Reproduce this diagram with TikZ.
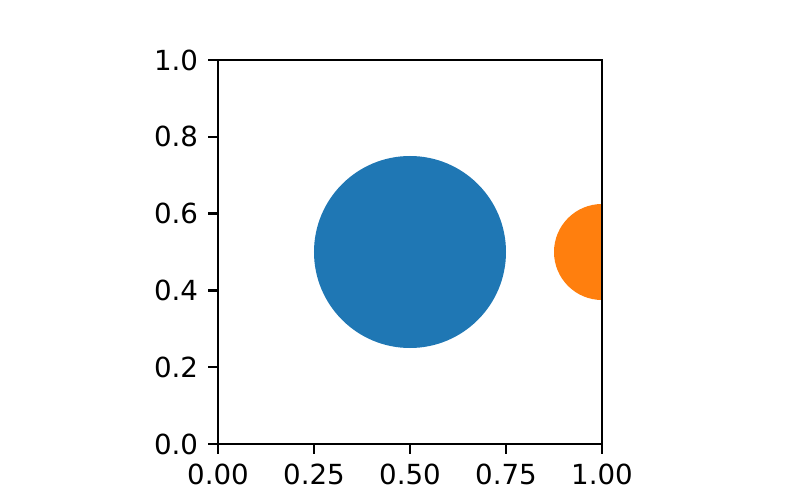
\documentclass[tikz,border=0pt]{standalone}
\usepackage{fontspec}
\setmainfont{DejaVu Sans}
\definecolor{tabblue}{HTML}{1F77B4}
\definecolor{taborange}{HTML}{FF7F0E}
\tikzset{
    axisline/.style={line width=0.8pt, black},
    ticklabel/.style={font=\fontsize{10}{12}\selectfont, inner sep=0pt}
}
\begin{document}
\begin{tikzpicture}[x=4.8768cm, y=4.8768cm]
    % Figure area
    \useasboundingbox (-0.56771,-0.14583) rectangle (1.51563,1.15625);

    % Patches
    \begin{scope}
        \clip (0,0) rectangle (1,1);
        \fill[tabblue] (0.5,0.5) circle (0.25);
        \fill[taborange] (1,0.5) circle (0.125);
    \end{scope}

    % Axes frame
    \draw[axisline] (0,0) rectangle (1,1);

    % Ticks and labels
    \foreach \v/\lab [count=\i] in {0/0.00, 0.25/0.25, 0.5/0.50, 0.75/0.75, 1/1.00} {
        \draw[axisline] (\v,0) -- ++(0,-3.5pt) coordinate (xtk\i);
        \node[ticklabel, anchor=north, yshift=-3.5pt] (xt\i) at (xtk\i) {\lab};
    }
    \foreach \v/\lab [count=\i] in {0/0.0, 0.2/0.2, 0.4/0.4, 0.6/0.6, 0.8/0.8, 1/1.0} {
        \draw[axisline] (0,\v) -- ++(-3.5pt,0) coordinate (ytk\i);
        \node[ticklabel, anchor=east, xshift=-3.5pt] (yt\i) at (ytk\i) {\lab};
    }

\end{tikzpicture}
\end{document}
